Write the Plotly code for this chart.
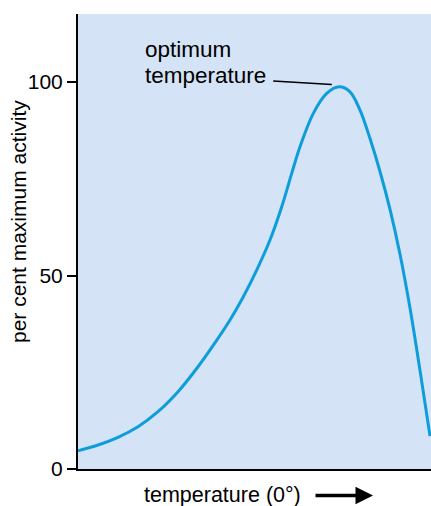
import plotly.graph_objects as go

# Data
temperature = [0, 5.67, 11.33, 17.0, 22.66, 28.33, 33.99, 39.66, 43.06, 46.83, 50.62,
               54.39, 57.71, 60.54, 62.89, 66.66, 70.45, 74.02, 77.05, 79.89, 82.72,
               85.55, 88.39, 91.22, 94.05, 96.88, 99.72]
activity = [4.73, 6.20, 8.19, 10.93, 14.81, 19.97, 26.43, 33.77, 38.50, 44.52, 51.42,
            59.17, 67.78, 76.41, 83.28, 91.91, 97.08, 98.79, 97.49, 92.76, 85.4,
            76.9, 67.1, 55.5, 41.6, 25.5, 8.5]
y_ticks = [0, 50, 100]
y_tick_labels = ["0", "50", "100"]

FONT = "Liberation Sans, Arial, Helvetica, sans-serif"
BG = "#d4e3f5"
CURVE = "#0d9ddb"

fig = go.Figure()
fig.add_trace(go.Scatter(
    x=temperature, y=activity, mode="lines",
    line=dict(color=CURVE, width=3, shape="spline", smoothing=1.0),
    hoverinfo="skip", showlegend=False,
))

fig.update_layout(
    width=431, height=506,
    margin=dict(l=78, r=0, t=14, b=37),
    paper_bgcolor="white",
    plot_bgcolor=BG,
    font=dict(family=FONT, size=21, color="black"),
    xaxis=dict(range=[0, 100], showgrid=False, zeroline=False, showticklabels=False,
               ticks="", showline=True, linecolor="black", linewidth=2),
    yaxis=dict(range=[0, 117.6], showgrid=False, zeroline=False,
               tickmode="array", tickvals=y_ticks, ticktext=y_tick_labels,
               ticks="outside", ticklen=9, tickwidth=1.5, tickcolor="black",
               showline=True, linecolor="black", linewidth=2,
               tickfont=dict(family=FONT, size=21, color="black")),
    annotations=[
        dict(text="per cent maximum activity", xref="paper", yref="paper",
             x=-0.170, y=0.545, xanchor="center", yanchor="middle", textangle=-90,
             showarrow=False, font=dict(family=FONT, size=21)),
        dict(text="temperature (0°)", xref="paper", yref="paper",
             x=0.409, y=-0.0565, xanchor="center", yanchor="middle",
             showarrow=False, font=dict(family=FONT, size=21.5)),
        dict(text="", xref="paper", yref="paper", x=0.8357, y=-0.0585,
             ax=-59, ay=0, showarrow=True, arrowhead=2, arrowsize=1.0,
             arrowwidth=3.5, arrowcolor="black", standoff=0),
        dict(text="optimum", xref="x", yref="y",
             x=18.5, y=108.3, xanchor="left", yanchor="middle", align="left",
             showarrow=False, font=dict(family=FONT, size=22.5)),
        dict(text="temperature", xref="x", yref="y",
             x=18.5, y=101.8, xanchor="left", yanchor="middle", align="left",
             showarrow=False, font=dict(family=FONT, size=22.5)),
    ],
    shapes=[
        dict(type="line", xref="x", yref="y", x0=55.3, y0=100.3, x1=71.9, y1=99.4,
             line=dict(color="black", width=1.5)),
    ],
)

fig.write_html(
    "out.html",
    config={"displayModeBar": False},
    post_script="document.body.style.margin='0';document.body.style.overflow='hidden';",
)
